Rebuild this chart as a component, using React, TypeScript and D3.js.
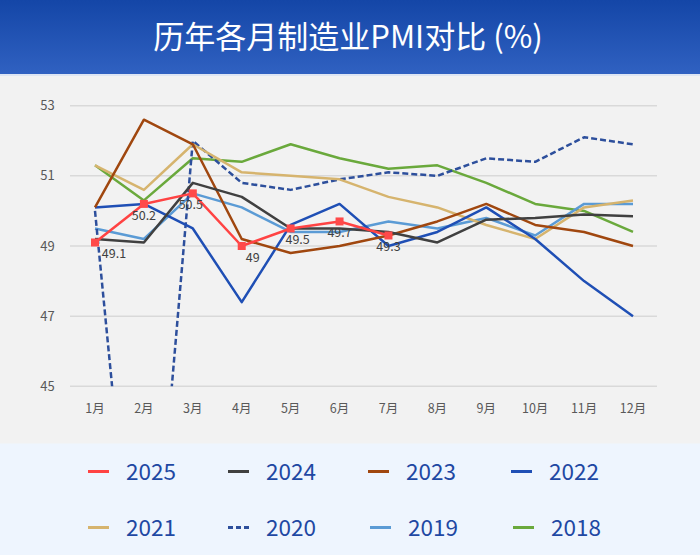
import { useEffect, useRef } from "react";
import * as d3 from "d3";

const months = ["1月", "2月", "3月", "4月", "5月", "6月", "7月", "8月", "9月", "10月", "11月", "12月"];
const yTicks = [45, 47, 49, 51, 53];

const pmi2025 = [49.1, 50.2, 50.5, 49.0, 49.5, 49.7, 49.3];
const pmi2024 = [49.2, 49.1, 50.8, 50.4, 49.5, 49.5, 49.4, 49.1, 49.75, 49.8, 49.9, 49.85];
const pmi2023 = [50.1, 52.6, 51.9, 49.2, 48.8, 49.0, 49.3, 49.7, 50.2, 49.6, 49.4, 49.0];
const pmi2022 = [50.1, 50.2, 49.5, 47.4, 49.6, 50.2, 49.0, 49.4, 50.1, 49.2, 48.0, 47.0];
const pmi2021 = [51.3, 50.6, 51.9, 51.1, 51.0, 50.9, 50.4, 50.1, 49.6, 49.2, 50.1, 50.3];
const pmi2020 = [50.0, 35.7, 52.0, 50.8, 50.6, 50.9, 51.1, 51.0, 51.5, 51.4, 52.1, 51.9];
const pmi2019 = [49.5, 49.2, 50.5, 50.1, 49.4, 49.4, 49.7, 49.5, 49.8, 49.3, 50.2, 50.2];
const pmi2018 = [51.3, 50.3, 51.5, 51.4, 51.9, 51.5, 51.2, 51.3, 50.8, 50.2, 50.0, 49.4];

const years = ["2025", "2024", "2023", "2022", "2021", "2020", "2019", "2018"];
const yearValues = [pmi2025, pmi2024, pmi2023, pmi2022, pmi2021, pmi2020, pmi2019, pmi2018];

const FONT = "'Noto Sans CJK SC', 'Noto Sans', sans-serif";
const colors = ["#ff4343", "#404040", "#a0470f", "#1f4fb5", "#d6b46e", "#2d4f9c", "#5b9bd5", "#6aa93c"];
const dashes = [null, null, null, null, null, "6,3", null, null];
// nudges for the 2025 value labels so they don't sit on the other lines
const labelDx = [19, 0, -2, 11, 7, 0, 0];

function App() {
    const ref = useRef(null);

    useEffect(() => {
        const width = 700, height = 555;
        const svg = d3.select(ref.current);
        svg.selectAll("*").remove();
        svg.attr("width", width).attr("height", height);

        // header banner
        const defs = svg.append("defs");
        const grad = defs.append("linearGradient")
            .attr("id", "banner").attr("x1", 0).attr("y1", 0).attr("x2", 0).attr("y2", 1);
        grad.append("stop").attr("offset", "0%").attr("stop-color", "#1446a7");
        grad.append("stop").attr("offset", "100%").attr("stop-color", "#3061c1");

        svg.append("rect").attr("x", 0).attr("y", 0).attr("width", width).attr("height", 74)
            .attr("fill", "url(#banner)");
        svg.append("rect").attr("x", 0).attr("y", 74).attr("width", width).attr("height", 2)
            .attr("fill", "#dde5f3");
        svg.append("rect").attr("x", 0).attr("y", 76).attr("width", width).attr("height", 368)
            .attr("fill", "#f2f2f2");
        svg.append("rect").attr("x", 0).attr("y", 443.5).attr("width", width).attr("height", 112)
            .attr("fill", "#eef5fe");

        svg.append("text")
            .attr("x", 348).attr("y", 48)
            .attr("text-anchor", "middle")
            .attr("font-family", FONT)
            .attr("font-size", 31)
            .attr("fill", "#ffffff")
            .text("历年各月制造业PMI对比 (%)");

        const x = d3.scalePoint().domain(months).range([95, 633]);
        const y = d3.scaleLinear().domain([45, 53]).range([386.3, 105.7]);

        // gridlines + y labels
        svg.append("g").selectAll("line").data(yTicks).enter().append("line")
            .attr("x1", 70).attr("x2", 657)
            .attr("y1", d => y(d)).attr("y2", d => y(d))
            .attr("stroke", "#d9d9d9").attr("stroke-width", 1.5);

        svg.append("g").selectAll("text").data(yTicks).enter().append("text")
            .attr("x", 47.5).attr("y", d => y(d) + 4.5)
            .attr("text-anchor", "middle")
            .attr("font-family", FONT).attr("font-size", 13)
            .attr("fill", "#595959")
            .text(d => d);

        svg.append("g").selectAll("text").data(months).enter().append("text")
            .attr("x", d => x(d)).attr("y", 412.5)
            .attr("text-anchor", "middle")
            .attr("font-family", FONT).attr("font-size", 12.5)
            .attr("fill", "#595959")
            .text(d => d);

        // clip so 2020's February dip stops at the bottom gridline
        defs.append("clipPath").attr("id", "plotClip")
            .append("rect").attr("x", 0).attr("y", 80).attr("width", width).attr("height", y(45) - 80);

        const line = d3.line().x((d, i) => x(months[i])).y(d => y(d));

        const plot = svg.append("g").attr("clip-path", "url(#plotClip)");
        // oldest year first so 2025 ends on top
        for (let k = years.length - 1; k >= 0; k--) {
            plot.append("path")
                .datum(yearValues[k])
                .attr("d", line)
                .attr("fill", "none")
                .attr("stroke", colors[k])
                .attr("stroke-width", 2.5)
                .attr("stroke-linejoin", "round")
                .attr("stroke-dasharray", dashes[k]);
        }

        // 2025 markers and labels
        svg.append("g").selectAll("rect").data(pmi2025).enter().append("rect")
            .attr("x", (d, i) => x(months[i]) - 4)
            .attr("y", d => y(d) - 4)
            .attr("width", 8).attr("height", 8)
            .attr("fill", "#ff4a4a");

        svg.append("g").selectAll("text").data(pmi2025).enter().append("text")
            .attr("x", (d, i) => x(months[i]) + labelDx[i])
            .attr("y", d => y(d) + 16)
            .attr("text-anchor", "middle")
            .attr("font-family", FONT).attr("font-size", 12.5)
            .attr("fill", "#404040")
            .text(d => d3.format("~g")(d));

        // legend, 4 per row
        const legendX = [88, 228, 368, 511];
        const legendY = [471.5, 527.5];
        const legend = svg.append("g").selectAll("g").data(years).enter().append("g")
            .attr("transform", (d, i) => `translate(${legendX[i % 4] + (i >= 6 ? 2 : 0)},${legendY[Math.floor(i / 4)]})`);

        legend.append("line")
            .attr("x1", 0).attr("x2", 21).attr("y1", 0).attr("y2", 0)
            .attr("stroke", (d, i) => colors[i])
            .attr("stroke-width", 3)
            .attr("stroke-dasharray", (d, i) => dashes[i] ? "5,3" : null);

        legend.append("text")
            .attr("x", 38).attr("y", 8)
            .attr("font-family", FONT).attr("font-size", 22.5)
            .attr("fill", "#1f48a3")
            .text(d => d);
    }, []);

    return <svg ref={ref} style={{ position: "absolute", left: 0, top: 0 }}></svg>;
}

export default App;
